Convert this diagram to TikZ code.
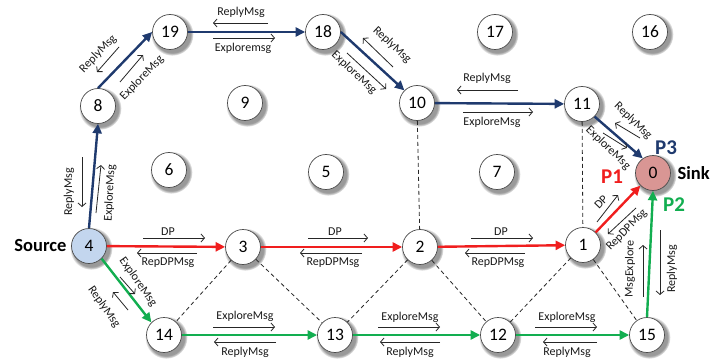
\documentclass[tikz,border=0pt]{standalone}
\usepackage{fontspec}
\setmainfont{Carlito}
\usetikzlibrary{arrows.meta,shadows}
\definecolor{navyc}{HTML}{1F3A6E}
\definecolor{redc}{HTML}{F01E1E}
\definecolor{greenc}{HTML}{12AE50}
\definecolor{sinkc}{HTML}{D99694}
\definecolor{srcc}{HTML}{C3D6EE}
\tikzset{
  nd/.style={circle, draw=black!70, line width=0.7pt, fill=white, minimum size=35pt,
    inner sep=0pt, font=\fontsize{17.5}{17.5}\selectfont,
    circular drop shadow={shadow xshift=1.8pt, shadow yshift=-2pt, shadow scale=1.22, opacity=0.8}},
  mainedge/.style={line width=2.4pt, -{Triangle[length=9.5pt,width=9pt]}},
  navyedge/.style={mainedge, draw=navyc},
  rededge/.style={mainedge, draw=redc},
  greenedge/.style={mainedge, draw=greenc},
  dashedge/.style={draw=black!85, line width=0.8pt, dash pattern=on 4pt off 3pt},
  lab/.style={font=\fontsize{12}{12}\selectfont, inner sep=0pt, text=black!90},
  la/.style={draw=black!85, line width=0.8pt, -{Straight Barb[length=3.5pt,width=8pt]}},
  bigl/.style={font=\fontsize{18.5}{18.5}\selectfont\bfseries, inner sep=0pt},
  pl/.style={font=\fontsize{21}{21}\selectfont\bfseries, inner sep=0pt}
}
\begin{document}
\begin{tikzpicture}[x=1pt,y=-1pt]
\useasboundingbox (0,0) rectangle (726,361);
% nodes
\node[nd] (n19) at (170,32) {19};
\node[nd] (n18) at (323,32) {18};
\node[nd] (n17) at (495,32) {17};
\node[nd] (n16) at (650,32) {16};
\node[nd] (n8) at (98,106) {8};
\node[nd] (n9) at (245,103) {9};
\node[nd] (n10) at (417,103) {10};
\node[nd] (n11) at (582,104) {11};
\node[nd] (n6) at (169,170) {6};
\node[nd] (n5) at (326,172) {5};
\node[nd] (n7) at (497,172) {7};
\node[nd, fill=sinkc] (n0) at (653,173) {0};
\node[nd, fill=srcc] (n4) at (89,246) {4};
\node[nd] (n3) at (243,247) {3};
\node[nd] (n2) at (420,247) {2};
\node[nd] (n1) at (583,245) {1};
\node[nd] (n14) at (164,335) {14};
\node[nd] (n13) at (335,335) {13};
\node[nd] (n12) at (498,335) {12};
\node[nd] (n15) at (647,335) {15};
% dashed links
\draw[dashedge] (n10) -- (n2);
\draw[dashedge] (n11) -- (n1);
\draw[dashedge] (n3) -- (n14);
\draw[dashedge] (n3) -- (n13);
\draw[dashedge] (n2) -- (n13);
\draw[dashedge] (n2) -- (n12);
\draw[dashedge] (n1) -- (n12);
\draw[dashedge] (n1) -- (n15);
% navy path P3
\draw[navyedge] (n4.north) -- (n8.south);
\draw[navyedge] (n8.north) -- (n19.west);
\draw[navyedge] (n19) -- (n18);
\draw[navyedge] (n18.east) -- (n10.north west);
\draw[navyedge] (n10) -- (n11);
\draw[navyedge] (n11.south east) -- (n0.125);
% red path P1
\draw[rededge] (n4) -- (n3);
\draw[rededge] (n3) -- (n2);
\draw[rededge] (n2) -- (n1);
\draw[rededge] (n1.north east) -- (n0.south west);
% green path P2
\draw[greenedge] (n4.south east) -- (n14.north west);
\draw[greenedge] (n14) -- (n13);
\draw[greenedge] (n13) -- (n12);
\draw[greenedge] (n12) -- (n15);
\draw[greenedge] (n15.north) -- (n0.south);
% labels: 4-8
\draw[la] (82,157) -- (82,207);
\node[lab, rotate=90] (l48a) at (69,192) {ReplyMsg};
\draw[la] (96,213) -- (101,165);
\node[lab, rotate=87] (l48b) at (110,193) {ExploreMsg};
% 8-19
\draw[la] (119,47) -- (97,72);
\node[lab, rotate=46] (l819a) at (98,54) {ReplyMsg};
\draw[la] (120,82) -- (143,55);
\node[lab, rotate=46] (l819b) at (142,78) {ExploreMsg};
% 19-18
\node[lab] (l1918a) at (241,12) {ReplyMsg};
\draw[la] (268,23) -- (213,23);
\draw[la] (213,38) -- (275,38);
\node[lab] (l1918b) at (243,48) {Exploremsg};
% 18-10
\draw[la] (393,67) -- (363,38);
\node[lab, rotate=-43] (l1810a) at (392,45) {ReplyMsg};
\draw[la] (347,53) -- (386,89);
\node[lab, rotate=-43] (l1810b) at (354,73) {ExploreMsg};
% 10-11
\node[lab] (l1011a) at (487,78) {ReplyMsg};
\draw[la] (518,90) -- (457,90);
\draw[la] (463,112) -- (533,112);
\node[lab] (l1011b) at (492,122) {ExploreMsg};
% 11-0
\draw[la] (640,138) -- (615,123);
\node[lab, rotate=-44] (l110a) at (633,121) {ReplyMsg};
\draw[la] (603,133) -- (627,148);
\node[lab, rotate=-44] (l110b) at (608,148) {ExploreMsg};
% 4-3
\node[lab] (l43a) at (168,232) {DP};
\draw[la] (143,238) -- (205,238);
\draw[la] (197,253) -- (137,253);
\node[lab] (l43b) at (168,263) {RepDPMsg};
% 3-2
\node[lab] (l32a) at (335,232) {DP};
\draw[la] (308,238) -- (368,238);
\draw[la] (362,253) -- (300,253);
\node[lab] (l32b) at (333,263) {RepDPMsg};
% 2-1
\node[lab] (l21a) at (501,232) {DP};
\draw[la] (471,238) -- (533,238);
\draw[la] (525,253) -- (465,253);
\node[lab] (l21b) at (498,263) {RepDPMsg};
% 1-0
\draw[la] (597,222) -- (618,195);
\node[lab, rotate=46] (l10a) at (601,202) {DP};
\draw[la] (636,208) -- (608,234);
\node[lab, rotate=46] (l10b) at (627,230) {RepDPMsg};
% 4-14
\draw[la] (120,277) -- (135,294);
\node[lab, rotate=-55] (l414a) at (138,282) {ExploreMsg};
\draw[la] (128,310) -- (113,292);
\node[lab, rotate=-55] (l414b) at (104,307) {ReplyMsg};
% 14-13
\node[lab] (l1413a) at (245,316) {ExploreMsg};
\draw[la] (213,327) -- (275,327);
\draw[la] (276,342) -- (214,342);
\node[lab] (l1413b) at (245,352) {ReplyMsg};
% 13-12
\node[lab] (l1312a) at (410,317) {ExploreMsg};
\draw[la] (378,327) -- (440,327);
\draw[la] (440,342) -- (380,342);
\node[lab] (l1312b) at (410,352) {ReplyMsg};
% 12-15
\node[lab] (l1215a) at (567,317) {ExploreMsg};
\draw[la] (535,327) -- (597,327);
\draw[la] (597,342) -- (543,342);
\node[lab] (l1215b) at (567,352) {ReplyMsg};
% 15-0
\draw[la] (643,297) -- (643,245);
\node[lab, rotate=89] (l150a) at (630,269) {MsgExplore};
\draw[la] (660,230) -- (660,295);
\node[lab, rotate=90] (l150b) at (672,269) {ReplyMsg};
% big labels
\node[bigl, anchor=east] (src) at ([xshift=-4.5pt]n4.west) {Source};
\node[bigl, anchor=west] (snk) at ([xshift=6.5pt]n0.east) {Sink};
\node[pl, text=navyc] (p3) at (666,148) {P3};
\node[pl, text=redc] (p1) at (612,177) {P1};
\node[pl, text=greenc] (p2) at (674,205) {P2};
\end{tikzpicture}
\end{document}
